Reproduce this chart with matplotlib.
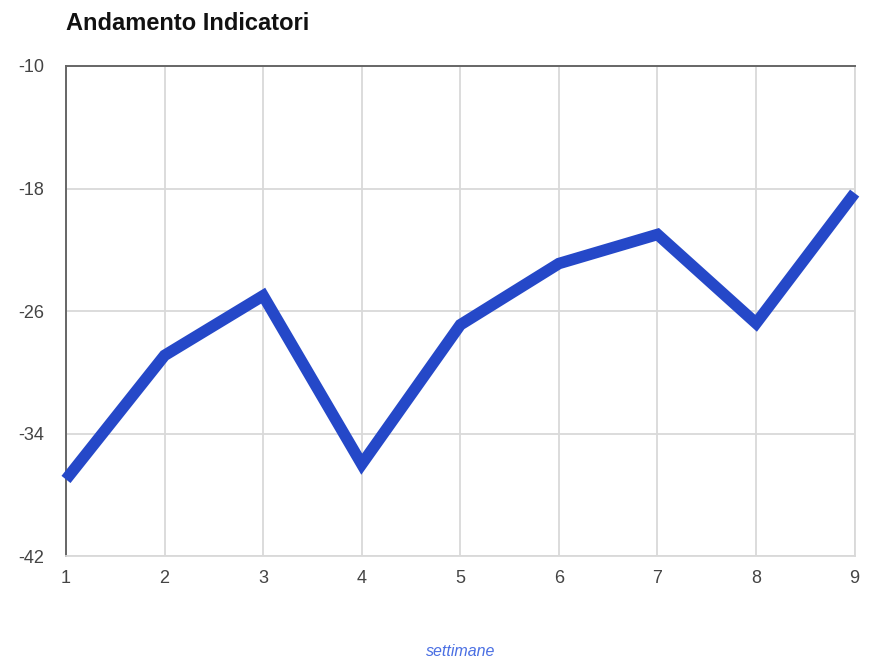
import matplotlib
matplotlib.use("Agg")
import matplotlib.pyplot as plt

plt.rcParams["font.family"] = ["Liberation Sans", "DejaVu Sans"]
plt.rcParams["axes.unicode_minus"] = False

# weekly indicator trend
weeks = [1, 2, 3, 4, 5, 6, 7, 8, 9]
values = [-37.0, -28.9, -25.0, -36.0, -26.9, -22.9, -21.0, -26.8, -18.3]
y_ticks = [-42, -34, -26, -18, -10]

LINE = "#2548c8"
GRID = "#d9d9d9"
TEXT = "#444444"

fig = plt.figure(figsize=(8.73, 6.58), dpi=100)
ax = fig.add_axes([0.0756, 0.155, 0.9034, 0.7447])

ax.plot(weeks, values, color=LINE, lw=8.3, solid_joinstyle="miter",
        solid_capstyle="butt", zorder=3, clip_on=False)

ax.set_xlim(1, 9)
ax.set_ylim(-42, -10)
ax.set_xticks(weeks)
ax.set_yticks(y_ticks)
ax.tick_params(length=0, labelsize=13, colors=TEXT)
ax.tick_params(axis="x", pad=10)
ax.tick_params(axis="y", pad=16)

ax.grid(True, color=GRID, lw=1.3)
for side in ("right", "bottom"):
    ax.spines[side].set_color(GRID)
    ax.spines[side].set_linewidth(1.3)
for side in ("left", "top"):
    ax.spines[side].set_color("#666666")
    ax.spines[side].set_linewidth(1.4)

fig.text(0.0756, 0.965, "Andamento Indicatori", fontsize=17, fontweight="bold",
         color="#111111", ha="left", va="center")
ax.set_xlabel("settimane", fontsize=11.5, style="italic", color="#4a6fe3",
              labelpad=41)

fig.savefig("out.png", dpi=100)
